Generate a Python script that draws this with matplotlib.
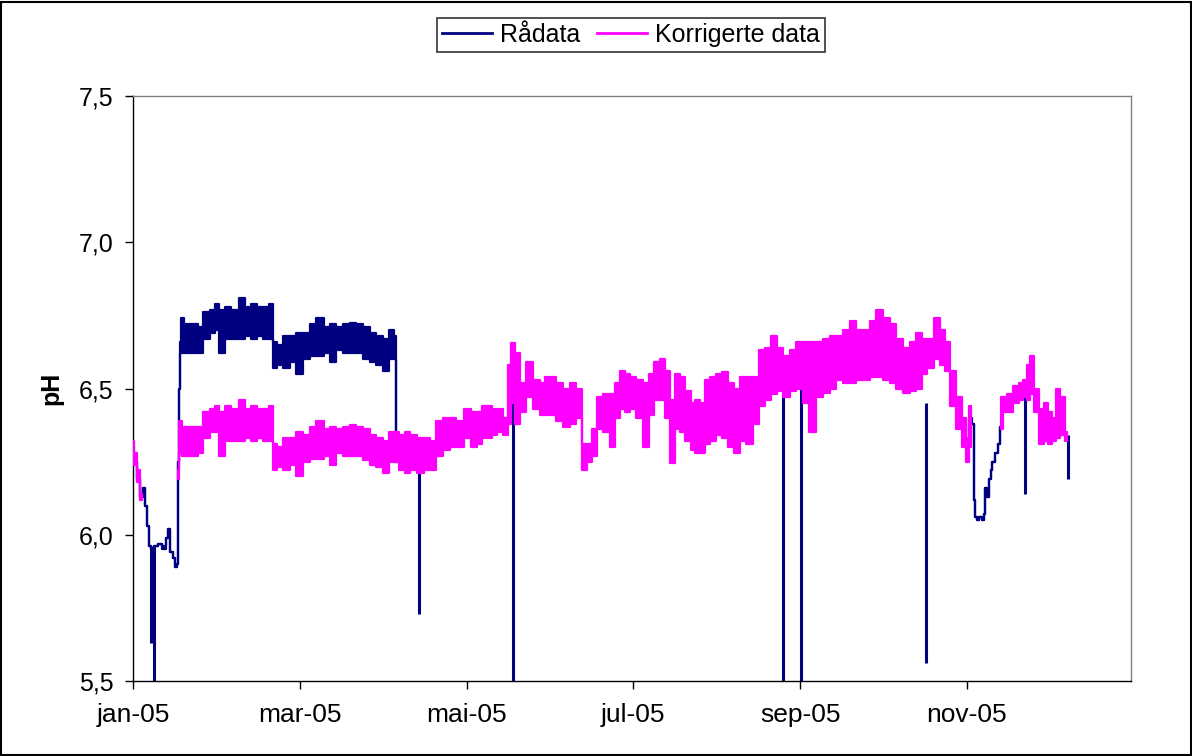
import numpy as np
import matplotlib
matplotlib.use("Agg")
import matplotlib.pyplot as plt
from matplotlib.lines import Line2D
from matplotlib.patches import Rectangle

plt.rcParams['font.family'] = ['Liberation Sans', 'DejaVu Sans']

nan = np.nan

# x-akse: dager fra 1. januar 2005
x_ticks = [0, 61, 122, 183, 244, 305]
x_labels = ["jan-05", "mar-05", "mai-05", "jul-05", "sep-05", "nov-05"]
y_ticks = [5.5, 6.0, 6.5, 7.0, 7.5]
y_labels = ["5,5", "6,0", "6,5", "7,0", "7,5"]

# Rådata: dag, min og maks pH (der kurven er synlig)
raa_dag = [0, 1, 2, 3.3, 4, 4.8, 5.5, 6.2, 7, 8.5, 10, 11.5, 12.5, 13, 14, 15, 15.8, 16.2,
           16.6, 17.0, 17.3, 18, 19, 22.7, 24.5, 27, 29, 30.7, 32.5, 34.7, 37.3, 40.2, 42,
           44, 46.4, 49, 50.8, 51.5, 53.7, 56.3, 58.5, 61, 63.6, 65.8, 68.4, 71, 73, 75.7,
           78.2, 80.4, 83, 85.6, 87.8, 90.3, 92.9, 94.7, 96, 96.5, 97,
           305.3, 306.4, 307.3, 307.6, 308, 309, 310, 311, 311.5, 312, 312.5, 313.3, 314,
           314.5, 315.9, 317, 317.4]
raa_min = [6.28, 6.25, 6.19, 6.13, 6.16, 6.10, 6.03, 5.96, 5.95, 5.96, 5.97, 5.95, 5.99, 6.02,
           5.94, 5.92, 5.89, 5.90, 6.25, 6.50, 6.62, 6.62, 6.62, 6.62, 6.62, 6.67, 6.69, 6.70,
           6.62, 6.67, 6.67, 6.67, 6.68, 6.67, 6.68, 6.67, 6.67, 6.57, 6.58, 6.57, 6.59, 6.55,
           6.60, 6.61, 6.61, 6.62, 6.59, 6.63, 6.62, 6.62, 6.62, 6.60, 6.59, 6.58, 6.56, 6.60,
           6.60, 6.25, nan,
           6.30, 6.38, 6.38, 6.12, 6.06, 6.05, 6.06, 6.05, 6.07, 6.16, 6.13, 6.19, 6.22,
           6.25, 6.28, 6.31, 6.37]
raa_max = [6.30, 6.25, 6.19, 6.13, 6.16, 6.10, 6.03, 5.96, 5.95, 5.96, 5.97, 5.96, 5.99, 6.02,
           5.94, 5.92, 5.89, 5.90, 6.25, 6.50, 6.66, 6.74, 6.72, 6.72, 6.71, 6.76, 6.77, 6.79,
           6.77, 6.78, 6.77, 6.81, 6.78, 6.79, 6.78, 6.78, 6.79, 6.66, 6.65, 6.68, 6.68, 6.69,
           6.69, 6.72, 6.74, 6.71, 6.72, 6.71, 6.72, 6.725, 6.72, 6.71, 6.69, 6.68, 6.67, 6.70,
           6.68, 6.35, nan,
           6.30, 6.40, 6.38, 6.12, 6.06, 6.05, 6.06, 6.05, 6.07, 6.16, 6.13, 6.19, 6.22,
           6.25, 6.28, 6.31, 6.37]

# Rådata: enkeltstående utslag nedover
utslag_dag = [6.6, 7.7, 104.6, 139, 237.7, 244.2, 290, 326.1, 341.9]
utslag_bunn = [5.63, 5.5, 5.73, 5.5, 5.5, 5.5, 5.56, 6.14, 6.19]
utslag_topp = [5.96, 5.96, 6.25, 6.55, 6.47, 6.55, 6.45, 6.48, 6.34]

# Korrigerte data: dag, min og maks pH
korr_dag = [0, 1, 2, 3.3, 4, 16.5, 17.2, 19, 22.7, 24.5, 27, 29, 30.7, 32.5, 34.7, 37.3,
            40.2, 42, 44, 46.4, 49, 50.8, 51.5, 53.7, 56.3, 58.5, 61, 63.6, 65.8, 68.4, 71,
            73, 75.7, 78.2, 80.4, 83, 85.6, 87.8, 90.3, 92.9, 94.7, 96.5, 98.4, 100.2, 102.4,
            105, 107.5, 109.7, 112.2, 114.8, 117, 119.6, 122.5, 124.7, 126.9, 128.7, 130.5,
            132.4, 134.2, 136.7, 137.8, 139, 140.4, 142.6, 145.2, 147.7, 149.9, 151.7, 153.6,
            156, 158.7, 160.9, 163.4, 165, 167, 169, 170.7, 173.3, 175.5, 177.3, 179, 181,
            182.8, 185.4, 188, 189.8, 191.6, 193.8, 195.6, 197.4, 199.3, 201, 203, 204.8,
            206.6, 208.4, 210.2, 212, 214.3, 216.5, 218.6, 220.8, 223, 225.6, 228.2, 230,
            232.2, 234.7, 236.6, 239, 241.3, 243.9, 246, 248.6, 251.2, 253.7, 256, 258.5,
            261, 263.3, 265.8, 268.4, 270.6, 273, 275.7, 277.9, 280.4, 283, 285.2, 287.8,
            289.6, 291.4, 294.3, 296.2, 297.6, 299.8, 302.4, 304.2, 305.3, 306.4, 307,
            317.4, 318.8, 320.7, 323.2, 325, 326.1, 327.6, 328.7, 330.5, 332.4, 333.8, 335.3,
            336.7, 338.2, 340, 341.5]
korr_min = [6.26, 6.24, 6.18, 6.12, nan, 6.19, 6.28, 6.27, 6.27, 6.28, 6.33, 6.35, 6.35, 6.27,
            6.32, 6.32, 6.32, 6.33, 6.32, 6.33, 6.32, 6.32, 6.22, 6.23, 6.22, 6.24, 6.20, 6.25,
            6.26, 6.26, 6.27, 6.24, 6.28, 6.27, 6.27, 6.27, 6.255, 6.24, 6.23, 6.21, 6.25, 6.25,
            6.22, 6.21, 6.22, 6.21, 6.22, 6.22, 6.27, 6.29, 6.30, 6.30, 6.33, 6.30, 6.31, 6.33,
            6.33, 6.34, 6.35, 6.34, 6.38, 6.45, 6.38, 6.42, 6.47, 6.43, 6.41, 6.41, 6.41, 6.39,
            6.37, 6.38, 6.40, 6.22, 6.25, 6.27, 6.36, 6.35, 6.30, 6.40, 6.43, 6.42, 6.43, 6.40,
            6.30, 6.41, 6.46, 6.46, 6.40, 6.245, 6.36, 6.35, 6.32, 6.29, 6.28, 6.28, 6.31, 6.32,
            6.34, 6.33, 6.30, 6.28, 6.32, 6.31, 6.38, 6.44, 6.46, 6.48, 6.49, 6.47, 6.49, 6.50,
            6.45, 6.35, 6.47, 6.485, 6.50, 6.53, 6.52, 6.52, 6.53, 6.53, 6.54, 6.54, 6.53, 6.52,
            6.50, 6.485, 6.49, 6.50, 6.55, 6.57, 6.60, 6.58, 6.56, 6.44, 6.36, 6.30, 6.25, 6.30,
            nan,
            6.36, 6.42, 6.42, 6.45, 6.46, 6.47, 6.46, 6.48, 6.42, 6.31, 6.32, 6.31, 6.32, 6.33,
            6.34, 6.32]
korr_max = [6.32, 6.28, 6.22, 6.14, nan, 6.22, 6.39, 6.37, 6.37, 6.37, 6.42, 6.43, 6.44, 6.42,
            6.44, 6.43, 6.46, 6.43, 6.44, 6.43, 6.43, 6.44, 6.31, 6.30, 6.33, 6.33, 6.35, 6.34,
            6.37, 6.39, 6.36, 6.37, 6.36, 6.37, 6.375, 6.37, 6.36, 6.34, 6.33, 6.32, 6.35, 6.35,
            6.34, 6.35, 6.34, 6.33, 6.33, 6.32, 6.39, 6.40, 6.40, 6.39, 6.43, 6.42, 6.42, 6.44,
            6.44, 6.43, 6.43, 6.40, 6.58, 6.655, 6.62, 6.52, 6.59, 6.53, 6.52, 6.54, 6.54, 6.52,
            6.50, 6.52, 6.50, 6.31, 6.31, 6.36, 6.47, 6.48, 6.48, 6.52, 6.56, 6.55, 6.54, 6.53,
            6.52, 6.55, 6.59, 6.60, 6.56, 6.46, 6.55, 6.54, 6.49, 6.45, 6.46, 6.45, 6.53, 6.54,
            6.55, 6.555, 6.52, 6.50, 6.54, 6.54, 6.54, 6.63, 6.64, 6.68, 6.64, 6.61, 6.63, 6.66,
            6.66, 6.66, 6.66, 6.67, 6.68, 6.68, 6.70, 6.73, 6.70, 6.70, 6.73, 6.77, 6.74, 6.72,
            6.67, 6.64, 6.66, 6.69, 6.67, 6.67, 6.74, 6.70, 6.66, 6.56, 6.47, 6.40, 6.33, 6.44,
            nan,
            6.47, 6.47, 6.48, 6.51, 6.52, 6.53, 6.58, 6.61, 6.50, 6.43, 6.45, 6.42, 6.40, 6.50,
            6.47, 6.35]

navy = '#000080'
magenta = '#FF00FF'

fig = plt.figure(figsize=(11.92, 7.56), dpi=100)
ax = fig.add_axes([133 / 1192, 75 / 756, 998 / 1192, 585 / 756])

# Rådata først, korrigerte data over
ax.fill_between(raa_dag, raa_min, raa_max, color=navy, edgecolor=navy, lw=1.6,
                step='mid', zorder=2)
ax.vlines(utslag_dag, utslag_bunn, utslag_topp, color=navy, lw=2.2, zorder=2)
ax.fill_between(korr_dag, korr_min, korr_max, color=magenta, edgecolor=magenta, lw=1.6,
                step='mid', zorder=3)

ax.set_xlim(0, 365)
ax.set_ylim(5.5, 7.5)
ax.set_xticks(x_ticks)
ax.set_xticklabels(x_labels)
ax.set_yticks(y_ticks)
ax.set_yticklabels(y_labels)
ax.tick_params(axis='both', labelsize=18, direction='out', length=6, width=1, colors='black')
ax.tick_params(axis='x', labelsize=19, pad=10)
ax.tick_params(axis='y', pad=8)

for side in ['left', 'bottom']:
    ax.spines[side].set_color('black')
    ax.spines[side].set_linewidth(1)
for side in ['top', 'right']:
    ax.spines[side].set_color('#808080')
    ax.spines[side].set_linewidth(1)

fig.text(51 / 1192, 1 - 388 / 756, 'pH', rotation=90, ha='center', va='center',
         fontsize=18, fontweight='bold')

handles = [Line2D([], [], color=navy, lw=2), Line2D([], [], color=magenta, lw=2)]
leg = fig.legend(handles, ['Rådata', 'Korrigerte data'], loc='center',
                 bbox_to_anchor=(631 / 1192, 1 - 35 / 756), ncol=2, fontsize=18,
                 frameon=True, fancybox=False, edgecolor='black', handlelength=2.0,
                 handletextpad=0.3, columnspacing=0.7, borderpad=0.2)
leg.get_frame().set_linewidth(1.2)

fig.patches.append(Rectangle((0.001, 0.001), 0.998, 0.997, transform=fig.transFigure,
                             fill=False, edgecolor='black', lw=1.5))

plt.savefig('out.png', dpi=100)
